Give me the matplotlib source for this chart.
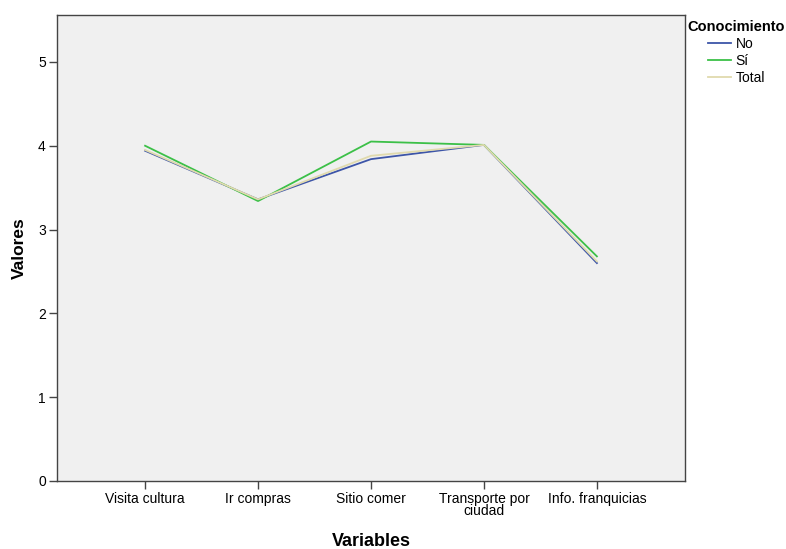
import matplotlib.pyplot as plt
import numpy as np

plt.rcParams['font.family'] = ['Liberation Sans', 'DejaVu Sans']

categories = ["Visita cultura", "Ir compras", "Sitio comer", "Transporte por\nciudad", "Info. franquicias"]
no_vals = [3.94, 3.36, 3.84, 4.01, 2.60]
si_vals = [4.00, 3.34, 4.05, 4.01, 2.68]
total_vals = [3.95, 3.36, 3.88, 4.01, 2.62]

fig = plt.figure(figsize=(7.86, 5.49), dpi=100)
ax = fig.add_axes([0.0725, 0.1239, 0.799, 0.8488])
ax.set_facecolor('#F0F0F0')

x = np.arange(len(categories))
ax.plot(x, no_vals, color='#3D55A8', lw=1.3, label='No')
ax.plot(x, si_vals, color='#3CC048', lw=1.3, label='Sí')
ax.plot(x, total_vals, color='#E0DAAE', lw=1.3, label='Total')

ax.set_xlim(-0.78, 4.78)
ax.set_ylim(0, 5.56)
ax.set_xticks(x)
ax.set_xticklabels(categories, fontsize=10, linespacing=0.8)
ax.set_yticks(range(6))
ax.tick_params(axis='both', direction='out', length=6, width=1, color='#444444', labelsize=10, pad=2)

for s in ax.spines.values():
    s.set_color('#444444')
    s.set_linewidth(1)

ax.set_xlabel("Variables", fontsize=13, fontweight='bold', labelpad=11)
ax.set_ylabel("Valores", fontsize=12.5, fontweight='bold', labelpad=8)

leg = ax.legend(title="Conocimiento", loc='upper left', bbox_to_anchor=(1.0, 0.995),
                frameon=False, fontsize=10, handlelength=1.7, handletextpad=0.3,
                labelspacing=0.22, borderaxespad=0.0, borderpad=0.2,
                title_fontproperties={'weight': 'bold', 'size': 10.5})

fig.savefig('out.png', dpi=100)
